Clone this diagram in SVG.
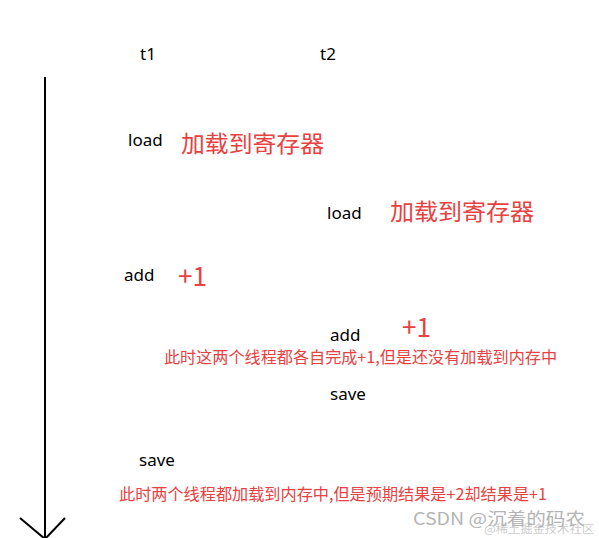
<svg xmlns="http://www.w3.org/2000/svg" width="599" height="538" viewBox="0 0 599 538">
<style>
.b{font-family:"Noto Sans","Liberation Sans",sans-serif;font-size:17px;fill:#000}
.r{font-family:"Noto Sans CJK SC","Noto Sans",sans-serif;fill:#e8413f}
.big{font-size:23px}
.p1{font-size:26px}
.sm{font-size:16px}
.wm{font-family:"Noto Sans CJK SC","Liberation Sans",sans-serif;fill:#b4b4b4}
</style>
<rect width="599" height="538" fill="#fff"/>
<g id="connectors" stroke="#000" stroke-width="2" fill="none">
<line x1="45" y1="77" x2="45" y2="538"/>
<line x1="20" y1="518" x2="45" y2="539"/>
<line x1="65" y1="518" x2="45" y2="539"/>
</g>
<g id="t1"><text class="b" x="140" y="60">t1</text></g>
<g id="t2"><text class="b" x="320" y="60">t2</text></g>
<g id="load1"><text class="b" x="128" y="146">load</text>
<text class="r big" x="181" y="152" textLength="143" lengthAdjust="spacingAndGlyphs">加载到寄存器</text></g>
<g id="load2"><text class="b" x="327" y="219">load</text>
<text class="r big" x="390" y="220" textLength="144" lengthAdjust="spacingAndGlyphs">加载到寄存器</text></g>
<g id="add1"><text class="b" x="124" y="281">add</text>
<text class="r p1" x="178" y="286" textLength="29" lengthAdjust="spacingAndGlyphs">+1</text></g>
<g id="add2"><text class="b" x="330" y="341">add</text>
<text class="r p1" x="402" y="337" textLength="29" lengthAdjust="spacingAndGlyphs">+1</text></g>
<g id="note1"><text class="r sm" x="164" y="363" textLength="393" lengthAdjust="spacingAndGlyphs">此时这两个线程都各自完成+1,但是还没有加载到内存中</text></g>
<g id="save2"><text class="b" x="330" y="400">save</text></g>
<g id="save1"><text class="b" x="139" y="466">save</text></g>
<g id="note2"><text class="r sm" x="119" y="500" textLength="428" lengthAdjust="spacingAndGlyphs">此时两个线程都加载到内存中,但是预期结果是+2却结果是+1</text></g>
<g id="watermark">
<text class="wm" x="413" y="525" font-size="17" textLength="172" lengthAdjust="spacingAndGlyphs">CSDN @沉着的码农</text>
<text class="wm" x="484" y="533" font-size="11" fill-opacity="0.7" textLength="110" lengthAdjust="spacingAndGlyphs">@稀土掘金技术社区</text>
</g>
</svg>
